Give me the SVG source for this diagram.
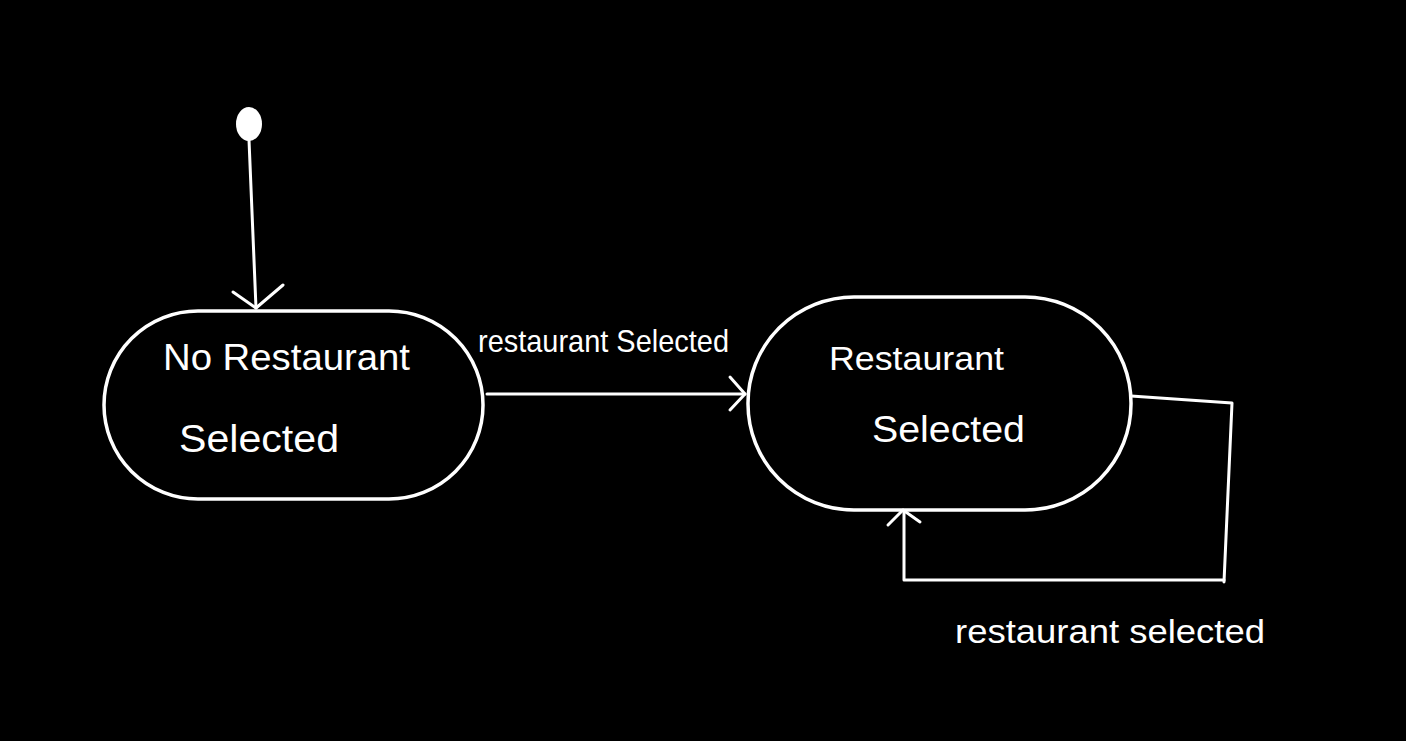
<svg xmlns="http://www.w3.org/2000/svg" width="1406" height="741" viewBox="0 0 1406 741">
<style>
.bg{fill:#000}
.st{fill:none;stroke:#fff;stroke-width:3.5}
.ln{fill:none;stroke:#fff;stroke-width:3;stroke-linecap:round;stroke-linejoin:round}
.t{fill:#fff;font-family:"Liberation Sans",Arial,sans-serif}
</style>
<rect class="bg" x="0" y="0" width="1406" height="741"/>
<g id="initial">
<ellipse cx="249" cy="124" rx="13" ry="17" fill="#fff"/>
</g>
<g id="no-restaurant-selected">
<rect class="st" x="104" y="311" width="379" height="188" rx="94" ry="94"/>
<text class="t" x="163" y="370" font-size="36" textLength="247" lengthAdjust="spacingAndGlyphs">No Restaurant</text>
<text class="t" x="179" y="452" font-size="38" textLength="160" lengthAdjust="spacingAndGlyphs">Selected</text>
</g>
<g id="restaurant-selected">
<rect class="st" x="748" y="297" width="383" height="213" rx="106" ry="106"/>
<text class="t" x="829" y="370" font-size="34" textLength="175" lengthAdjust="spacingAndGlyphs">Restaurant</text>
<text class="t" x="872" y="442" font-size="36" textLength="153" lengthAdjust="spacingAndGlyphs">Selected</text>
</g>
<g id="connectors">
<path class="ln" d="M249 140 L256 308"/>
<path class="ln" d="M233 292 L256 308 L283 285"/>
<path class="ln" d="M487 394 L745 394"/>
<path class="ln" d="M730 377 L745 394 L730 410"/>
<path class="ln" d="M1131 396 L1232 403 L1224 582"/>
<path class="ln" d="M1224 580 L904 580 L904 512"/>
<path class="ln" d="M888 525 L903 510 L920 522"/>
<text class="t" x="478" y="352" font-size="32" textLength="251" lengthAdjust="spacingAndGlyphs">restaurant Selected</text>
<text class="t" x="955" y="643" font-size="34" textLength="310" lengthAdjust="spacingAndGlyphs">restaurant selected</text>
</g>
</svg>
